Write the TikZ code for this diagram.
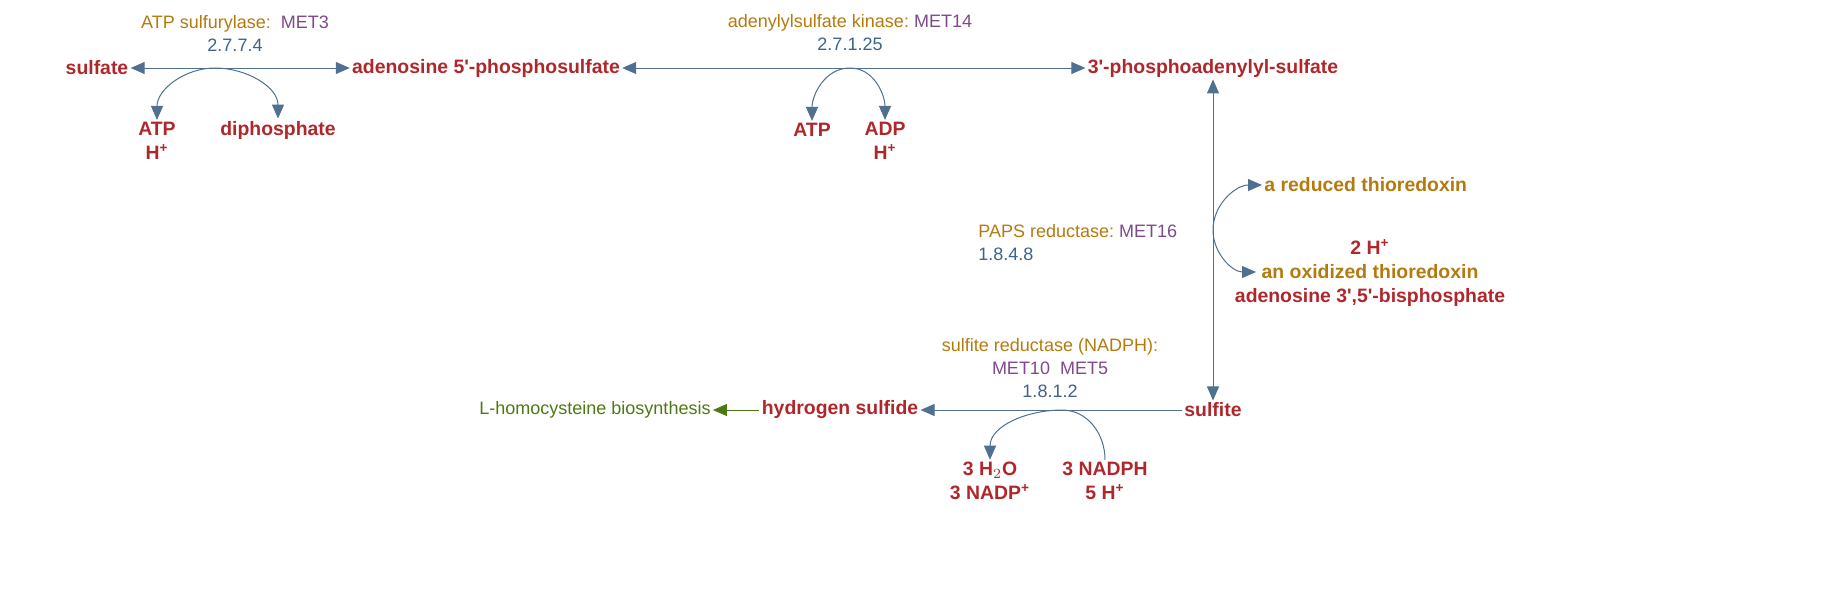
\documentclass[tikz,border=0pt]{standalone}
\usepackage{fontspec}
\setmainfont{Liberation Sans}
\usetikzlibrary{arrows.meta, positioning}
\definecolor{cpd}{HTML}{B0272B}
\definecolor{enz}{HTML}{B57A0E}
\definecolor{gene}{HTML}{7E4A8A}
\definecolor{ecn}{HTML}{3E6388}
\definecolor{rxn}{HTML}{4F7090}
\definecolor{pwy}{HTML}{4C7A12}
\newcommand{\pr}{\textquotesingle}
\newcommand{\ion}{\textsuperscript{+}}
\tikzset{
  cpd/.style={text=cpd, font=\fontsize{9.7}{12}\selectfont\bfseries, inner sep=1pt, align=center},
  lbl/.style={font=\fontsize{9}{11.5}\selectfont, inner sep=1pt, align=center},
  rx/.style={draw=rxn, line width=0.5pt},
  >={Triangle[length=7pt, width=6pt]},
}
\begin{document}
\begin{tikzpicture}[x=0.5pt, y=-0.5pt]
    \useasboundingbox (0,0) rectangle (1830,596);

    % main compounds
    \node (so4) [cpd] at (97,68) {sulfate};
    \node (aps) [cpd] at (486,68) {adenosine 5\pr-phosphosulfate};
    \node (paps) [cpd] at (1213,68) {3\pr-phosphoadenylyl-sulfate};
    \node (so3) [cpd] at (1213,410) {sulfite};
    \node (h2s) [cpd] at (840,410) {hydrogen sulfide};
    \node (hcy) [lbl, text=pwy] at (595,410) {L-homocysteine biosynthesis};

    % side compounds
    \node (atp1) [cpd] at (157,141) {ATP\\H\ion};
    \node (ppi) [cpd] at (278,130) {diphosphate};
    \node (atp2) [cpd] at (812,130) {ATP};
    \node (adp) [cpd] at (885,141) {ADP\\H\ion};
    \node (redtrx) [cpd, text=enz, anchor=west] at (1262,185) {a reduced thioredoxin};
    \node (prods) [cpd] at (1370,273) {2 H\ion\\{\color{enz}an oxidized thioredoxin}\\adenosine 3\pr,5\pr-bisphosphate};
    \node (h2o) [cpd] at (990,481) {3 H$_2$O\\3 NADP\ion};
    \node (nadph) [cpd] at (1105,481) {3 NADPH\\5 H\ion};

    % enzymes
    \node (e1) [lbl] at (235,33) {{\color{enz}ATP sulfurylase:}\ \ {\color{gene}MET3}\\{\color{ecn}2.7.7.4}};
    \node (e2) [lbl] at (850,33) {{\color{enz}adenylylsulfate kinase:}\ {\color{gene}MET14}\\{\color{ecn}2.7.1.25}};
    \node (e3) [lbl, align=left, anchor=west] at (976,243) {{\color{enz}PAPS reductase:}\ {\color{gene}MET16}\\{\color{ecn}1.8.4.8}};
    \node (e4) [lbl] at (1050,368) {{\color{enz}sulfite reductase (NADPH):}\\{\color{gene}MET10\ \ MET5}\\{\color{ecn}1.8.1.2}};

    % reactions
    \draw [rx, <->] (so4) -- (aps);
    \draw [rx, <->] (aps) -- (paps);
    \draw [rx, <->] (paps) -- (so3);
    \draw [rx, ->] (so3) -- (h2s);
    \draw [draw=pwy, line width=0.5pt, ->] (h2s) -- (hcy);

    % co-substrate arcs
    \coordinate (t1) at (215,68);
    \coordinate (t2) at (850,68);
    \coordinate (t3) at (1213,230);
    \coordinate (t4) at (1062,410);
    \coordinate (ox) at (1256,272);
    \draw [rx, <->] (atp1.north) to[out=90, in=180] (t1) to[out=0, in=90] (ppi.north);
    \draw [rx, <->] (atp2.north) to[out=90, in=180] (t2) to[out=0, in=90] (adp.north);
    \draw [rx, <->] (redtrx.west) to[out=180, in=90] (t3) to[out=-90, in=180] (ox);
    \draw [rx, ->] (nadph.north) to[out=90, in=0] (t4) to[out=180, in=90] (h2o.north);
\end{tikzpicture}
\end{document}
